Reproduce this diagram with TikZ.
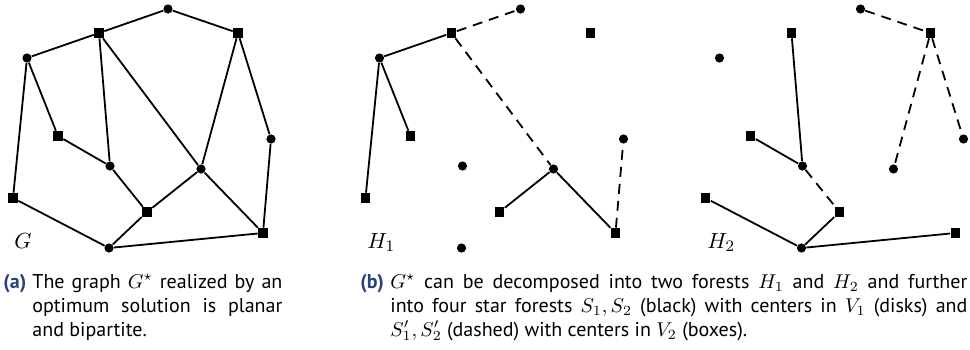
\documentclass[tikz,border=0pt]{standalone}
\usepackage{fontspec}
\setmainfont{PT Sans}
\usepackage{xcolor}
\usetikzlibrary{positioning}

\definecolor{capblue}{RGB}{38,68,120}

% the twelve vertices of G*, same place in every panel
\newcommand{\starvertices}{%
  \node[disk] (t) at (168,9)   {};
  \node[box]  (a) at (99,33)   {};
  \node[box]  (b) at (238,33)  {};
  \node[disk] (c) at (27,58)   {};
  \node[box]  (d) at (58,136)  {};
  \node[disk] (e) at (271,139) {};
  \node[disk] (f) at (110,166) {};
  \node[disk] (g) at (201,169) {};
  \node[box]  (h) at (13,198)  {};
  \node[box]  (i) at (147,212) {};
  \node[box]  (j) at (263,233) {};
  \node[disk] (k) at (109,248) {};
}

\begin{document}
\begin{tikzpicture}[
   x=0.5pt,y=-0.5pt,
   disk/.style={circle,fill,inner sep=0pt,minimum size=4.6pt},
   box/.style={rectangle,fill,inner sep=0pt,minimum size=4.9pt},
   edge/.style={line width=0.9pt},
   dedge/.style={edge,dash pattern=on 5pt off 3.5pt},
   glabel/.style={font=\fontsize{11}{13}\selectfont,anchor=base west,inner sep=0pt},
   captag/.style={font=\bfseries,text=capblue,anchor=base west,inner sep=0pt},
   captext/.style={anchor=base west,inner sep=0pt}
]
\useasboundingbox (0,0) rectangle (970,349);

% =========== Panel (a): the graph G* ============
\begin{scope}[name prefix=g-]
  \starvertices
  \draw[edge] (t) -- (a) (t) -- (b) (a) -- (c) (a) -- (f) (a) -- (g)
              (b) -- (g) (b) -- (e) (c) -- (d) (c) -- (h) (d) -- (f)
              (f) -- (i) (g) -- (i) (g) -- (j) (e) -- (j) (h) -- (k)
              (i) -- (k) (k) -- (j);
  \node[glabel] (lab) at (14,248) {$G$};
\end{scope}

% =========== Panel (b): forest H1 ============
\begin{scope}[shift={(352.5,0)},name prefix=h1-]
  \starvertices
  \draw[edge]  (c) -- (a) (c) -- (h) (c) -- (d) (g) -- (i) (g) -- (j);
  \draw[dedge] (a) -- (t) (a) -- (g) (j) -- (e);
  \node[glabel] (lab) at (14.5,248) {$H_1$};
\end{scope}

% =========== Panel (b): forest H2 ============
\begin{scope}[shift={(692.5,0)},name prefix=h2-]
  \starvertices
  \draw[edge]  (a) -- (f) (d) -- (f) (h) -- (k) (k) -- (i) (k) -- (j);
  \draw[dedge] (f) -- (i) (t) -- (b) (b) -- (g) (b) -- (e);
  \node[glabel] (lab) at (14.5,248) {$H_2$};
\end{scope}

% captions
\node[captag] (taga) at (3,288) {(a)};
\node[captext] (capa) at (32,288) {\parbox[t]{125pt}{The graph $G^\star$ realized by an\linebreak
  optimum solution is planar\linebreak and bipartite.}};

\node[captag] (tagb) at (360,288) {(b)};
\node[captext] (capb) at (390,288) {\parbox[t]{288.5pt}{$G^\star$ can be decomposed into two forests $H_1$ and $H_2$ and further\linebreak
  into four star forests $S_1,S_2$ (black) with centers in $V_1$ (disks) and\linebreak
  $S_1',S_2'$ (dashed) with centers in $V_2$ (boxes).}};

\end{tikzpicture}
\end{document}
